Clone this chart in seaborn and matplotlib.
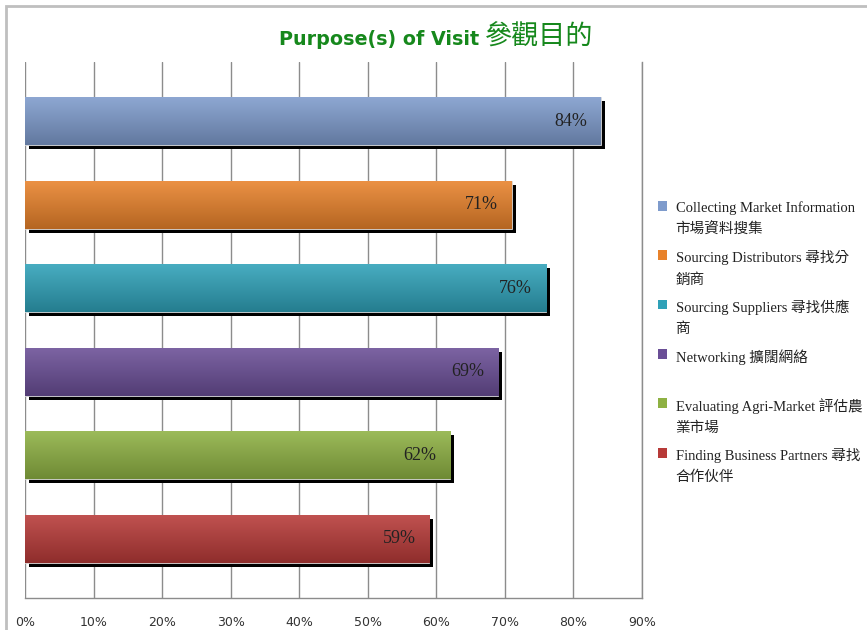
import numpy as np
import pandas as pd
import matplotlib
matplotlib.use("Agg")
import matplotlib.pyplot as plt
import matplotlib.transforms as mtransforms
from matplotlib.patches import Rectangle
from matplotlib.font_manager import FontProperties
import seaborn as sns

# data
purposes = [
    "Collecting Market Information\n市場資料搜集",
    "Sourcing Distributors 尋找分\n銷商",
    "Sourcing Suppliers 尋找供應\n商",
    "Networking 擴闊網絡\n ",
    "Evaluating Agri-Market 評估農\n業市場",
    "Finding Business Partners 尋找\n合作伙伴",
]
percent = [84, 71, 76, 69, 62, 59]
bar_colors = ["#7E9BCC", "#E8822B", "#2FA1B8", "#6A4E96", "#8EB143", "#B73A38"]
x_ticks = [0, 10, 20, 30, 40, 50, 60, 70, 80, 90]

df = pd.DataFrame({"purpose": purposes, "percent": percent})

sns.set_theme(style="white")
serif_cjk = ["Liberation Serif", "Noto Sans CJK TC"]

fig = plt.figure(figsize=(8.67, 6.30), dpi=100)
ax = fig.add_axes([25 / 867, 1 - 598 / 630, (642 - 25) / 867, (598 - 62) / 630])

sns.barplot(data=df, x="percent", y="purpose", hue="purpose", palette=bar_colors,
            width=0.57, legend=False, ax=ax, saturation=1, zorder=3)

# shadow + vertical gradient on each bar
shadow_tr = mtransforms.offset_copy(ax.transData, fig=fig, x=4, y=-4, units="dots")
for patch, col in zip(ax.patches, bar_colors):
    x0, y0 = patch.get_x(), patch.get_y()
    w, h = patch.get_width(), patch.get_height()
    ax.add_patch(Rectangle((x0, y0), w, h, facecolor="black", edgecolor="none",
                           transform=shadow_tr, zorder=2))
    base = np.array(matplotlib.colors.to_rgb(col))
    top = base + (1 - base) * 0.12
    bot = base * 0.78
    t = np.linspace(0, 1, 64)[:, None]
    grad = (top[None, :] * (1 - t) + bot[None, :] * t)[:, None, :]
    im = ax.imshow(grad, extent=(x0, x0 + w, y0 + h, y0), aspect="auto",
                   zorder=4, interpolation="bilinear", origin="upper")
    im.set_clip_path(patch)
    patch.set_edgecolor("#dddddd")
    patch.set_linewidth(0.6)

for i, v in enumerate(percent):
    ax.annotate(f"{v}%", xy=(v, i), xytext=(-10, 0), textcoords="offset points",
                ha="right", va="center", fontsize=13, color="#222222",
                family=serif_cjk, zorder=6)

ax.set_xlim(0, 90)
ax.set_ylim(len(purposes) - 0.29, -0.71)
ax.set_xticks(x_ticks)
ax.set_xticklabels([f"{t}%" for t in x_ticks], fontsize=9, color="#333333")
ax.set_yticks([])
ax.set_xlabel("")
ax.set_ylabel("")
ax.tick_params(axis="x", length=0, pad=13)
ax.grid(axis="x", color="#8c8c8c", lw=1, zorder=0)
ax.set_axisbelow(True)
for s in ["top", "left"]:
    ax.spines[s].set_visible(False)
for s in ["bottom", "right"]:
    ax.spines[s].set_color("#8c8c8c")
    ax.spines[s].set_linewidth(1)

# legend
handles = [Rectangle((0, 0), 1, 1, facecolor=c, edgecolor="none") for c in bar_colors]
leg = fig.legend(handles, purposes, loc="upper left", bbox_to_anchor=(658 / 867, 1 - 201 / 630),
                 frameon=False, prop=FontProperties(family=serif_cjk, size=10.5),
                 handlelength=0.65, handleheight=0.65, handletextpad=0.55,
                 labelspacing=0.9, borderaxespad=0, borderpad=0)
for txt in leg.get_texts():
    txt.set_linespacing(1.72)
    txt.set_color("#222222")
# marker next to the first line of each entry, like the original
for col in leg._legend_handle_box.get_children():
    for row in col.get_children():
        row.align = "top"

# title
fig.text(479 / 867, 1 - 45 / 630, "Purpose(s) of Visit", ha="right", va="baseline",
         fontsize=13.8, fontweight="bold", color="#16881C", family=["DejaVu Sans"])
fig.text(485 / 867, 1 - 45 / 630, "參觀目的", ha="left", va="baseline",
         fontsize=19.5, color="#16881C", family=["Noto Sans CJK TC"])

# chart border
fig.patches.append(Rectangle((6 / 867, -0.1), 1.2, 1 - 6 / 630 + 0.1, transform=fig.transFigure,
                             fill=False, edgecolor="#bfbfbf", lw=2, figure=fig))

fig.savefig("out.png", dpi=100)
